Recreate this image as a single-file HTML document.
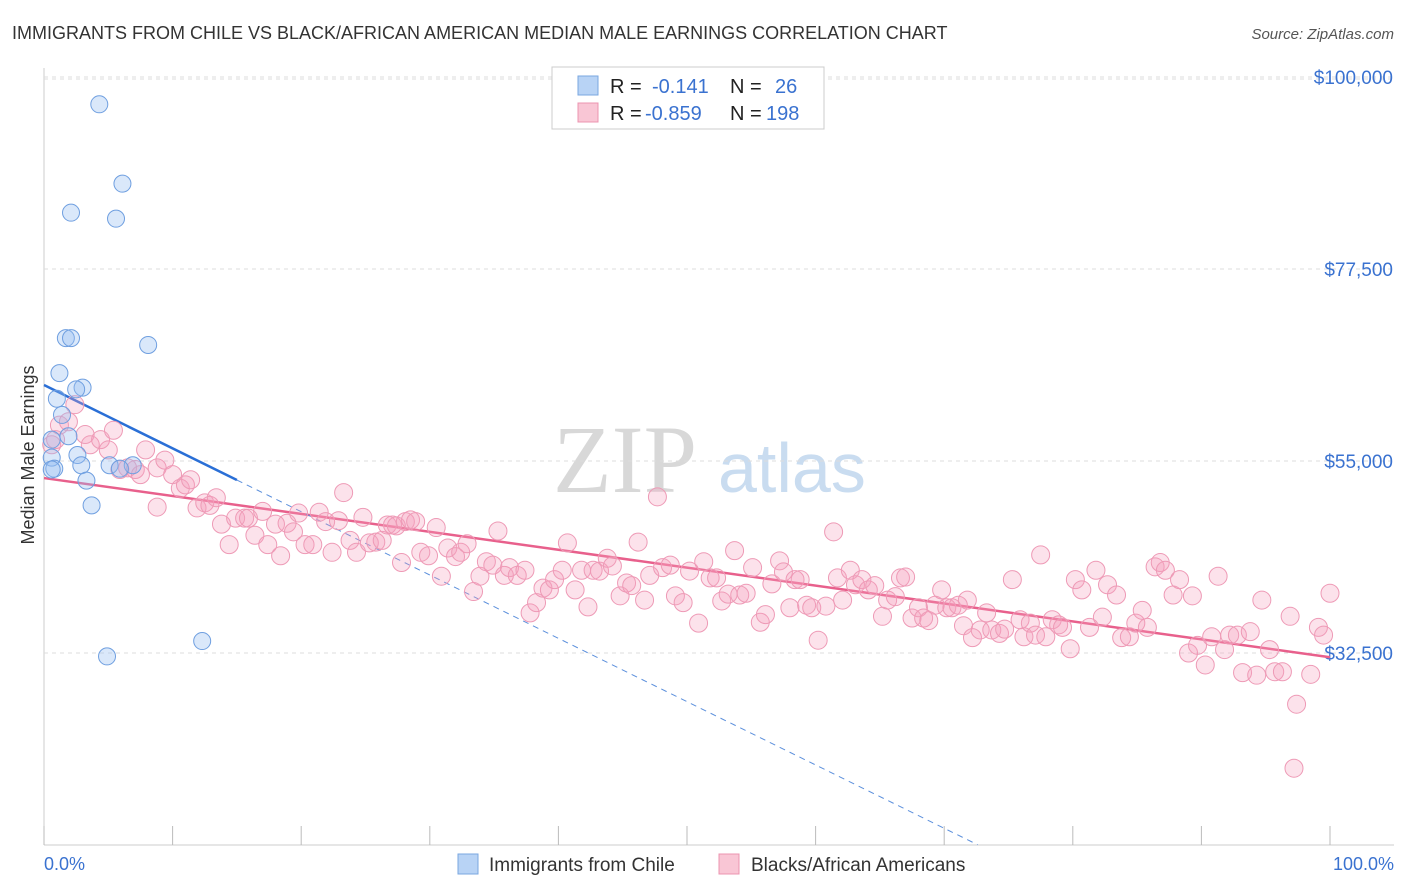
<!DOCTYPE html>
<html><head><meta charset="utf-8"><style>
body{margin:0;background:#fff;font-family:"Liberation Sans",sans-serif;}
#wrap{position:relative;width:1406px;height:892px;overflow:hidden;}
</style></head><body>
<div id="wrap">
<svg id="svg" width="1406" height="892" xmlns="http://www.w3.org/2000/svg">
<text x="12" y="39" font-size="18" fill="#333">IMMIGRANTS FROM CHILE VS BLACK/AFRICAN AMERICAN MEDIAN MALE EARNINGS CORRELATION CHART</text>
<text x="1394" y="39" font-size="15" fill="#555" font-style="italic" text-anchor="end">Source: ZipAtlas.com</text>
<text x="34" y="455" font-size="18" fill="#333" text-anchor="middle" transform="rotate(-90 34 455)">Median Male Earnings</text>
<g font-size="96">
<text x="553" y="492" fill="#d8d8d8" font-family="Liberation Serif,serif">ZIP</text>
<text x="718" y="492" fill="#c9dcf0" font-size="70">atlas</text></g>
<g id="grid"></g><g id="trends"></g><g id="pts"></g>
<g>
<rect x="552" y="67" width="272" height="62" fill="#fff" stroke="#ccc"/>
<rect x="578" y="76" width="20" height="19" fill="#b8d3f5" stroke="#7aa7e0"/>
<rect x="578" y="103" width="20" height="19" fill="#f9c6d5" stroke="#ec94b0"/>
<text x="610" y="93" font-size="20" fill="#222">R = </text><text x="652" y="93" font-size="20" fill="#3a72d0">-0.141</text>
<text x="730" y="93" font-size="20" fill="#222">N = </text><text x="775" y="93" font-size="20" fill="#3a72d0">26</text>
<text x="610" y="120" font-size="20" fill="#222">R = </text><text x="645" y="120" font-size="20" fill="#3a72d0">-0.859</text>
<text x="730" y="120" font-size="20" fill="#222">N = </text><text x="766" y="120" font-size="20" fill="#3a72d0">198</text>
</g>
<text x="44" y="870" font-size="18" fill="#3a72d0">0.0%</text>
<text x="1394" y="870" font-size="18" fill="#3a72d0" text-anchor="end">100.0%</text>
<g><rect x="458" y="854" width="20" height="20" fill="#b8d3f5" stroke="#7aa7e0"/><text x="489" y="871" font-size="19" fill="#333">Immigrants from Chile</text></g>
<g><rect x="719" y="854" width="20" height="20" fill="#f9c6d5" stroke="#ec94b0"/><text x="751" y="871" font-size="19" fill="#333">Blacks/African Americans</text></g>
</svg></div>
<script>
const yTicks=[100000,77500,55000,32500];
const yTickLabels=["$100,000","$77,500","$55,000","$32,500"];
const xTicks=[0,10,20,30,40,50,60,70,80,90,100];
const blueX=[4.3,6.1,2.1,5.6,1.7,2.1,8.1,1.2,3.0,2.5,1.0,1.4,1.9,0.6,2.6,0.6,5.1,2.9,6.9,5.9,0.8,3.3,3.7,12.3,4.9,0.6];
const blueY=[96.8,87.5,84.1,83.4,69.4,69.4,68.6,65.3,63.6,63.4,62.3,60.4,57.9,57.5,55.7,55.4,54.5,54.5,54.5,54.1,54.1,52.7,49.8,33.9,32.1,54.0];
const pinkX=[0.6,0.9,1.2,2.4,1.9,3.2,3.6,4.4,5.0,5.4,5.9,6.5,7.1,7.9,7.5,8.8,9.4,10.0,10.6,11.0,11.4,8.8,11.9,12.5,12.9,13.4,13.8,14.4,14.9,15.6,15.9,16.4,17.0,17.4,18.0,18.4,18.9,19.4,19.8,20.3,20.9,21.4,21.9,22.4,22.9,23.3,23.8,24.3,24.8,25.3,25.8,26.3,26.7,27.1,27.4,27.8,28.1,28.5,28.9,29.3,29.9,30.5,30.9,31.4,32.0,32.4,32.9,33.4,33.9,34.4,34.9,35.3,35.8,36.2,36.8,37.4,37.8,38.3,38.8,39.3,39.7,40.3,40.7,41.3,41.8,42.3,42.7,43.2,43.8,44.2,44.8,45.3,45.7,46.2,46.7,47.1,47.7,48.1,48.7,49.1,49.7,50.2,50.9,51.3,51.8,52.3,52.7,53.2,53.7,54.1,54.6,55.1,55.7,56.1,56.6,57.2,57.5,58.0,58.4,58.8,59.3,59.7,60.2,60.8,61.4,61.7,62.1,62.7,63.1,63.6,64.1,64.6,65.2,65.6,66.2,66.6,67.0,67.5,68.0,68.4,68.8,69.3,69.8,70.2,70.6,71.1,71.5,71.8,72.2,72.8,73.3,73.7,74.3,74.7,75.3,75.9,76.2,76.7,77.1,77.5,77.9,78.4,78.9,79.2,79.8,80.2,80.7,81.3,81.8,82.3,82.7,83.4,83.8,84.4,84.9,85.4,85.8,86.4,86.8,87.2,87.8,88.3,89.0,89.3,89.7,90.3,90.8,91.3,91.8,92.2,92.8,93.2,93.8,94.3,94.7,95.3,95.7,96.3,96.9,97.4,98.5,97.2,99.1,99.5,100];
const pinkY=[56.9,57.5,59.2,61.6,59.6,58.1,56.9,57.5,56.3,58.6,54.0,54.2,54.0,56.3,53.4,54.2,55.1,53.4,51.8,52.2,52.8,49.6,49.5,50.1,49.8,50.7,47.6,45.2,48.3,48.3,48.3,46.3,49.1,45.2,47.6,43.9,47.7,46.7,48.9,45.2,45.2,49.0,47.9,44.3,48.0,51.3,45.7,44.3,48.4,45.4,45.5,45.7,47.5,47.5,47.4,43.1,47.9,48.1,47.9,44.3,43.9,47.2,41.5,44.8,43.8,44.3,45.3,39.7,41.5,43.2,42.8,46.8,41.6,42.5,41.6,42.2,37.2,38.4,40.1,39.9,41.1,42.2,45.4,39.9,42.2,37.9,42.2,42.1,43.6,42.7,39.2,40.7,40.4,45.5,38.7,41.6,50.8,42.5,42.8,39.2,38.4,42.1,36.0,43.2,41.3,41.3,38.6,39.4,44.5,39.3,39.5,42.5,36.1,37.0,40.6,43.3,42.0,37.8,41.1,41.1,38.1,37.8,34.0,38.0,46.7,41.3,38.7,42.2,40.5,41.1,39.9,40.4,36.8,38.7,39.1,41.3,41.4,36.6,37.8,36.6,36.3,38.1,39.9,37.8,37.8,38.1,35.7,38.7,34.3,35.2,37.2,35.2,34.8,35.3,41.1,36.4,34.4,36.0,34.6,44.0,34.4,36.4,35.8,35.5,33.0,41.1,39.9,35.5,42.2,36.7,40.5,39.3,34.3,34.4,36.0,37.5,35.5,42.6,43.1,42.2,39.3,41.1,32.5,39.2,33.4,31.1,34.4,41.5,32.9,34.6,34.6,30.2,35.0,29.9,38.7,32.9,30.3,30.3,36.8,26.5,30.0,19.0,35.5,34.6,39.5];
const blueTrend=[63.9,-0.742];
const pinkTrend=[53.0,-0.21];
const NS="http://www.w3.org/2000/svg";
const X=p=>44+p*12.86;
const Y=v=>845-(v-10000)*0.0085333;
function mk(tag,attrs,parent){const e=document.createElementNS(NS,tag);for(const k in attrs)e.setAttribute(k,attrs[k]);parent.appendChild(e);return e;}
const grid=document.getElementById('grid');
mk('line',{x1:44,y1:845,x2:1394,y2:845,stroke:'#ccc'},grid);
mk('line',{x1:44,y1:68,x2:44,y2:845,stroke:'#ccc'},grid);
mk('line',{x1:44,y1:79,x2:1394,y2:79,stroke:'#ddd','stroke-dasharray':'4,4'},grid);
yTicks.forEach((v,i)=>{
 const l=mk('line',{x1:44,y1:Y(v),x2:1394,y2:Y(v),stroke:'#ddd','stroke-dasharray':'4,4'},grid);
 
 
 const t=mk('text',{x:1393,y:Y(v)+7,'font-size':19,fill:'#3a72d0','text-anchor':'end'},grid);
 t.textContent=yTickLabels[i];
 
 
});
xTicks.forEach(p=>{
 const l=mk('line',{x1:X(p),y1:826,x2:X(p),y2:845,stroke:'#bbb'},grid);
 
 
});
const tr=document.getElementById('trends');
const pt=(c,p)=>Y((c[0]+c[1]*p)*1000);
let l1=mk('line',{x1:X(0),y1:pt(pinkTrend,0),x2:X(100),y2:pt(pinkTrend,100),stroke:'#e8608c','stroke-width':2.5},tr);


let l2=mk('line',{x1:X(0),y1:pt(blueTrend,0),x2:X(15),y2:pt(blueTrend,15),stroke:'#2a6fd6','stroke-width':2.5},tr);


let l3=mk('line',{x1:X(15),y1:pt(blueTrend,15),x2:X(72.6),y2:pt(blueTrend,72.6),stroke:'#5b8fdc','stroke-width':1,'stroke-dasharray':'6,5'},tr);


const pg=document.getElementById('pts');
pinkX.forEach((x,i)=>{
 const c=mk('circle',{cx:X(x),cy:Y(pinkY[i]*1000),r:9,fill:'rgba(244,160,188,0.3)',stroke:'#ee9ab6','stroke-width':1},pg);
 
 
});
blueX.forEach((x,i)=>{
 const c=mk('circle',{cx:X(x),cy:Y(blueY[i]*1000),r:8.5,fill:'rgba(150,190,240,0.35)',stroke:'#6f9fe0','stroke-width':1},pg);
 
 
});
</script>
</body></html>
